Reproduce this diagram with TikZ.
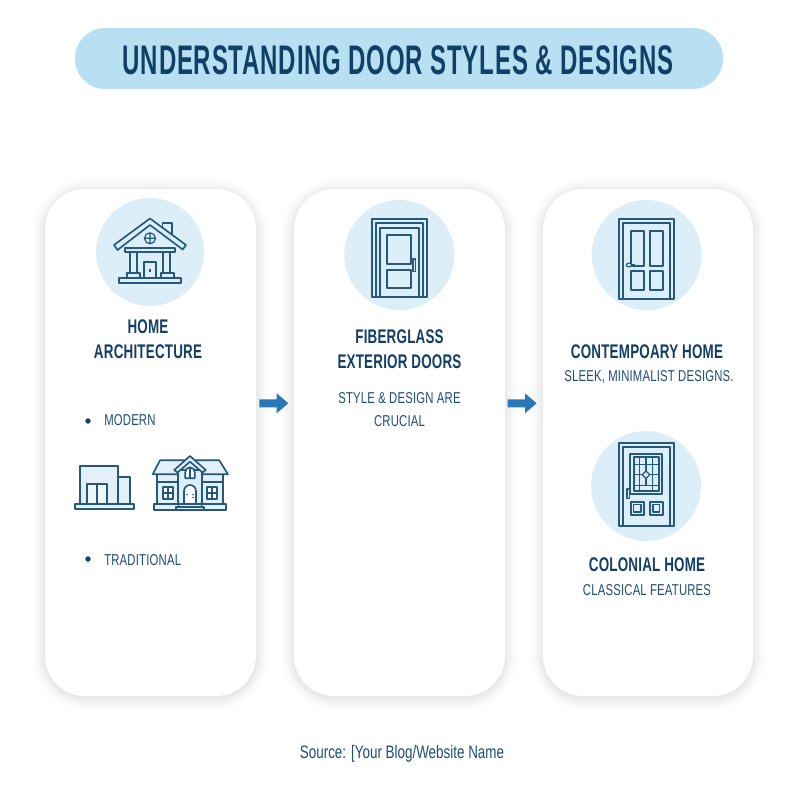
\documentclass[tikz,border=0pt]{standalone}
\usepackage{fontspec}
\setmainfont[FakeStretch=0.72,LetterSpace=1.2]{Liberation Sans}
\newfontfamily\hfont[FakeStretch=0.68,LetterSpace=1]{Liberation Sans Bold}
\newfontfamily\tfont[FakeStretch=0.58,LetterSpace=2]{Liberation Sans Bold}
\newfontfamily\sfont[FakeStretch=0.74]{Liberation Sans}
\usetikzlibrary{calc}
\definecolor{navy}{HTML}{123F66}
\definecolor{softnavy}{HTML}{1F4E75}
\definecolor{iconline}{HTML}{24587F}
\definecolor{disc}{HTML}{DCEEF7}
\definecolor{pale}{HTML}{E4F0F8}
\definecolor{arrowblue}{HTML}{2A78B8}
\definecolor{pill}{HTML}{B9DFF2}
\tikzset{
  icon/.style={draw=iconline,line width=1.25pt,line join=round,fill=none},
  iconthin/.style={draw=iconline,line width=0.9pt,line join=round,fill=none},
  heading/.style={font=\hfont\fontsize{14.8}{18.8}\selectfont,text=navy,align=center,inner sep=0pt},
  bodytext/.style={font=\fontsize{11.8}{17.5}\selectfont,text=softnavy,align=center,inner sep=0pt},
  discfill/.style={fill=disc,draw=none},
  flow/.style={fill=arrowblue,draw=none}
}
\newcommand{\softcard}[4]{%
  \foreach \g/\o in {13/0.007,11/0.008,9/0.01,7/0.012,5/0.014,3/0.016,1/0.02}{
    \fill[black,opacity=\o,rounded corners=30+\g] (#1-\g,#2-\g+2) rectangle (#3+\g,#4+\g+2);
  }
  \fill[white,rounded corners=30] (#1,#2) rectangle (#3,#4);
}
\begin{document}
\begin{tikzpicture}[x=0.75pt,y=-0.75pt]
\useasboundingbox (0,0) rectangle (800,800);
\fill[white] (0,0) rectangle (800,800);
% title
\fill[pill,rounded corners=22.5pt] (75,28) rectangle (723,89);
\node[font=\tfont\fontsize{31}{36}\selectfont,text=navy,inner sep=0pt] (title) at (398,60) {UNDERSTANDING DOOR STYLES \& DESIGNS};
% cards
\softcard{45}{189}{256}{696}
\softcard{294}{189}{505}{696}
\softcard{543}{189}{753}{696}
% arrows
\fill[flow] (259.3,399.3) -- (276.7,399.3) -- (276.7,393.3) -- (288.3,403.3) -- (276.7,413.3) -- (276.7,407.3) -- (259.3,407.3) -- cycle;
\fill[flow] (507.5,399.3) -- (525,399.3) -- (525,393.3) -- (536.6,403.3) -- (525,413.3) -- (525,407.3) -- (507.5,407.3) -- cycle;
% discs
\fill[discfill] (150,252) circle (54);
\fill[discfill] (399.3,255) circle (55);
\fill[discfill] (646.7,255) circle (55);
\fill[discfill] (646,486) circle (55);
% home icon
\draw[icon] (162.5,230) -- (162.5,223) -- (172.3,223) -- (172.3,239);
\draw[icon,fill=disc] (150,218.5) -- (186,245) -- (182.7,249.5) -- (150,225) -- (117.5,250) -- (114,245) -- cycle;
\draw[iconthin] (150,238.3) circle (5.5) (144.5,238.3) -- (155.5,238.3) (150,232.8) -- (150,243.8);
\draw[icon] (125.3,247.7) rectangle (174.7,252.3);
\draw[icon] (129.7,252.3) rectangle (137,273.3);
\draw[icon] (163,252.3) rectangle (170.3,273.3);
\draw[icon] (127,273.3) rectangle (139.7,277.7);
\draw[icon] (161,273.3) rectangle (173.7,277.7);
\draw[icon] (144,262.3) rectangle (156,277.7);
\draw[iconthin] (150,269) -- (150,272);
\draw[icon] (119.3,277.7) rectangle (180.7,282.7);
% modern house
\draw[icon,fill=pale] (80.3,466) rectangle (118.3,504.3);
\draw[icon,fill=pale] (118.3,477) rectangle (130,504.3);
\draw[icon,fill=pale!60!white] (87.3,484) rectangle (106.7,504.3);
\draw[icon] (97,484) -- (97,504.3);
\draw[icon,fill=pale] (75,504.3) rectangle (134.3,509);
% traditional house
\draw[icon,fill=pale] (156.7,474.3) rectangle (223.3,504.3);
\draw[icon] (156.7,481.7) -- (223.3,481.7);
\draw[icon,fill=pale] (152.7,474.3) -- (160,460.3) -- (219.3,460.3) -- (228,474.3) -- cycle;
\draw[icon,fill=disc] (178.3,470) rectangle (201.7,504.3);
\draw[icon,fill=pale] (190,456) -- (205.7,470) -- (202.5,472.5) -- (190,461.7) -- (177.5,472.5) -- (174.3,470) -- cycle;
\draw[icon,fill=white] (185.3,478.3) -- (185.3,472) arc (180:360:4.7) -- (194.7,478.3) -- cycle;
\draw[iconthin] (190,467.3) -- (190,478.3);
\draw[icon,fill=white] (184,504.3) -- (184,491) arc (180:360:6) -- (196,504.3);
\fill[iconline] (187,494.5) circle (0.9) (193,494.5) circle (0.9) (193,497.5) circle (0.9);
\foreach \xx in {162.7,206.7}{
  \draw[icon,fill=white] (\xx,486.7) rectangle (\xx+10.6,499.3);
  \draw[iconthin] (\xx+5.3,486.7) -- (\xx+5.3,499.3) (\xx,493) -- (\xx+10.6,493);
}
\draw[icon,fill=pale] (154.3,504.3) rectangle (225.7,510.3);
\draw[icon,fill=pale] (175.7,507.3) rectangle (204,510.3);
\draw[iconthin] (178.3,504.3) -- (178.3,507.3) (201.7,504.3) -- (201.7,507.3);
% door 1
\draw[icon] (371.7,297.3) -- (371.7,219) -- (427.3,219) -- (427.3,297.3) -- cycle;
\draw[icon] (376,297.3) -- (376,223.3) -- (422.7,223.3) -- (422.7,297.3);
\draw[icon] (380,297.3) -- (380,227.7) -- (418.7,227.7) -- (418.7,297.3);
\draw[icon] (387.3,235) rectangle (411,264);
\draw[icon] (387.3,270.3) rectangle (411,288.3);
\draw[iconthin] (413,259) rectangle (415.7,271.3);
% door 2
\draw[icon] (619,299) -- (619,219) -- (674.3,219) -- (674.3,299) -- cycle;
\draw[icon] (623.3,299) -- (623.3,223.3) -- (670,223.3) -- (670,299);
\draw[icon] (631.3,231) rectangle (644,265.7);
\draw[icon] (649.7,231) rectangle (662.7,265.7);
\draw[icon] (631.3,271) rectangle (644,290);
\draw[icon] (649.7,271) rectangle (662.7,290);
\draw[iconthin] (634.5,265) -- (631,265);
\draw[iconthin,fill=disc] (629,265) ellipse (2.7 and 1.8);
% door 3
\draw[icon] (619,525.7) -- (619,442.7) -- (674.3,442.7) -- (674.3,525.7) -- cycle;
\draw[icon] (623.3,525.7) -- (623.3,447.3) -- (670,447.3) -- (670,525.7);
\draw[icon] (630.3,453.7) rectangle (662.3,494);
\draw[icon] (633.7,457) rectangle (659,490.7);
\draw[iconthin] (639.7,457) -- (639.7,490.7) (652.3,457) -- (652.3,490.7) (633.7,464.7) -- (659,464.7) (633.7,485.7) -- (659,485.7) (646,457) -- (646,471) (646,478.5) -- (646,485.7) (633.7,474.7) -- (642.3,474.7) (649.7,474.7) -- (659,474.7);
\draw[iconthin] (646,471) -- (649.7,474.7) -- (646,478.5) -- (642.3,474.7) -- cycle;
\draw[iconthin] (627,489) rectangle (629.7,498.3);
\draw[icon] (630.7,501.7) rectangle (644,515);
\draw[iconthin] (633.7,504.7) rectangle (641,512);
\draw[icon] (650,501.7) rectangle (662.7,515);
\draw[iconthin] (653,504.7) rectangle (659.7,512);
% texts
\node[heading] (h1) at (148,339) {HOME\\ARCHITECTURE};
\fill[navy] (88,421) circle (2.7);
\node[bodytext,anchor=west] (t1) at (104,420.5) {MODERN};
\fill[navy] (88,559) circle (2.7);
\node[bodytext,anchor=west] (t2) at (104,560) {TRADITIONAL};
\node[heading] (h2) at (399.5,349.5) {FIBERGLASS\\EXTERIOR DOORS};
\node[bodytext] (t3) at (399.5,409.5) {STYLE \& DESIGN ARE\\CRUCIAL};
\node[heading] (h3) at (647,351.5) {CONTEMPOARY HOME};
\node[bodytext] (t4) at (649,377) {SLEEK, MINIMALIST DESIGNS.};
\node[heading] (h4) at (647,564.5) {COLONIAL HOME};
\node[bodytext] (t5) at (647,590) {CLASSICAL FEATURES};
\node[font=\sfont\fontsize{13.6}{16}\selectfont,text=softnavy,inner sep=0pt] (src) at (402,754) {Source: [Your Blog/Website Name};
\end{tikzpicture}
\end{document}
